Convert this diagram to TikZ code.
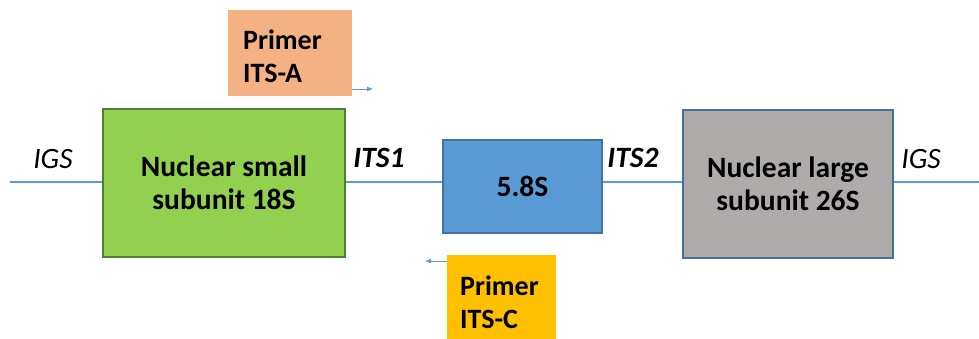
\documentclass[tikz,border=0pt]{standalone}
\usepackage{fontspec}
\setmainfont{Carlito}
\usetikzlibrary{arrows.meta}
\definecolor{lineblue}{HTML}{5B9BD5}
\definecolor{boxgreen}{HTML}{92D050}
\definecolor{greenedge}{HTML}{507E32}
\definecolor{boxblue}{HTML}{5B9BD5}
\definecolor{blueedge}{HTML}{41719C}
\definecolor{boxgray}{HTML}{AFABAB}
\definecolor{primerA}{HTML}{F4B183}
\definecolor{primerC}{HTML}{FFC000}
\tikzset{
  x=1pt,y=1pt,
  unitbox/.style={draw=#1, line width=1.2pt, inner sep=0pt, align=center,
    font=\fontsize{29.5}{32.5}\selectfont\bfseries},
  primerbox/.style={inner sep=0pt, align=left,
    font=\fontsize{28}{33}\selectfont\bfseries},
  spacer/.style={font=\fontsize{29.5}{30}\selectfont\itshape},
  spacerb/.style={font=\fontsize{29.5}{30}\selectfont\bfseries\itshape},
  mainline/.style={draw=lineblue, line width=1.2pt},
  primerarrow/.style={draw=lineblue, line width=0.8pt, -{Latex[length=6pt,width=5pt]}}
}
\begin{document}
\begin{tikzpicture}
\useasboundingbox (0,0) rectangle (979,339);
\fill[white] (0,0) rectangle (979,339);
% boxes
\node[unitbox=greenedge, fill=boxgreen, minimum width=242, minimum height=148] (ssu) at (224,156) {Nuclear small\\subunit 18S};
\node[unitbox=blueedge, fill=boxblue, minimum width=159, minimum height=93] (s58) at (522.5,152.5) {5.8S};
\node[unitbox=blueedge, fill=boxgray, minimum width=210, minimum height=148] (lsu) at (788,155) {Nuclear large\\subunit 26S};
% line ends
\coordinate (lend) at (10,157);
\coordinate (rend) at (979,157);
\draw[mainline] (lend) -- (ssu.west |- lend);
\draw[mainline] (ssu.east |- lend) -- (s58.west |- lend);
\draw[mainline] (s58.east |- lend) -- (lsu.west |- lend);
\draw[mainline] (lsu.east |- lend) -- (rend);
% labels
\node[spacer] (igsl) at (53,180) {IGS};
\node[spacerb] (its1) at (379,181) {ITS1};
\node[spacerb] (its2) at (633,181) {ITS2};
\node[spacer] (igsr) at (921,180) {IGS};
% primers
\node[fill=primerA, minimum width=124, minimum height=86, inner sep=0pt] (pa) at (290,286) {};
\node[primerbox, anchor=west] (pat) at (243,283) {Primer\\ITS-A};
\node[fill=primerC, minimum width=109, minimum height=100, inner sep=0pt] (pc) at (501.5,34) {};
\node[primerbox, anchor=west] (pct) at (460,37) {Primer\\ITS-C};
\coordinate (pae) at (373,250);
\coordinate (pce) at (425,78);
\draw[primerarrow] (pa.east |- pae) -- (pae);
\draw[primerarrow] (pc.west |- pce) -- (pce);
\end{tikzpicture}
\end{document}
